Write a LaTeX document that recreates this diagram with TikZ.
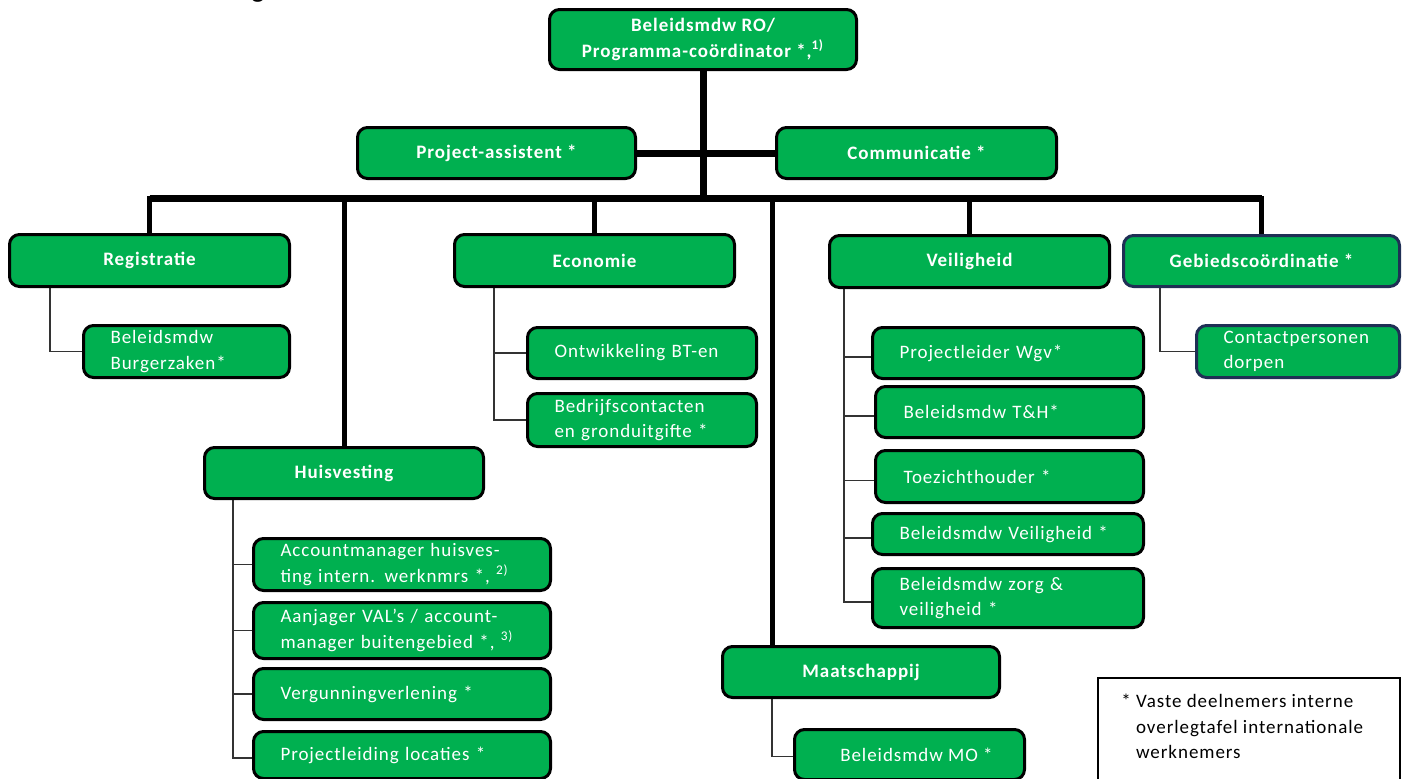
\documentclass[tikz,border=0pt]{standalone}
\usepackage{fontspec}
\setmainfont{Carlito}[LetterSpace=5]
\usetikzlibrary{backgrounds}
\definecolor{boxgreen}{HTML}{00B050}
\definecolor{navyedge}{HTML}{1F2F55}
\definecolor{thinline}{HTML}{333333}
\newcommand\boxfont{\fontsize{9.5}{12.75}\selectfont}
\begin{document}
\begin{tikzpicture}[x=0.5pt,y=-0.5pt,
  box/.style={draw=black, line width=1.5pt, fill=boxgreen, rounded corners=5pt,
    text=white, inner sep=0pt, anchor=north west, font=\boxfont},
  head/.style={box, font=\bfseries\boxfont, align=center},
  sub/.style={box, align=left, inner xsep=13.5pt},
  thickconn/.style={line width=3.5pt, draw=black},
  dropconn/.style={line width=2.5pt, draw=black, line cap=rect},
  thinconn/.style={line width=0.75pt, draw=thinline}]
\useasboundingbox (0,0) rectangle (1402,778);
\node[anchor=base, inner sep=0pt, font=\fontsize{14}{14}\selectfont] (titlefrag) at (258,-3) {g};
% top level
\node[head, minimum width=153.5pt, minimum height=30pt] (top) at (548,8) {Beleidsmdw RO/\\Programma-coördinator *,\textsuperscript{1)}};
\node[head, minimum width=139pt, minimum height=25.5pt] (proj) at (356,126) {Project-assistent *};
\node[head, minimum width=140pt, minimum height=25.5pt] (comm) at (775,126) {Communicatie *};
% Registratie
\node[head, minimum width=140pt, minimum height=26pt] (reg) at (8,233) {Registratie};
\node[sub, text width=76pt, minimum height=26pt] (burg) at (82,324) {Beleidsmdw\\Burgerzaken*};
% Economie
\node[head, minimum width=140pt, minimum height=26pt] (econ) at (453,233) {Economie};
\node[sub, text width=87.5pt, minimum height=25.5pt] (ontw) at (526,326) {Ontwikkeling BT-en};
\node[sub, text width=87.5pt, minimum height=26.5pt] (bedr) at (526,392) {Bedrijfscontacten\\en gronduitgifte *};
% Veiligheid
\node[head, minimum width=140pt, minimum height=26pt] (veil) at (828,234) {Veiligheid};
\node[sub, text width=108.5pt, minimum height=25.5pt] (wgv) at (871,326) {Projectleider Wgv*};
\node[sub, inner xsep=14pt, text width=106pt, minimum height=25.5pt] (th) at (874,385) {Beleidsmdw T\&H*};
\node[sub, inner xsep=14pt, text width=106pt, minimum height=26pt] (toez) at (874,449) {Toezichthouder *};
\node[sub, text width=108.5pt, minimum height=20.5pt] (bveil) at (871,512) {Beleidsmdw Veiligheid *};
\node[sub, text width=108.5pt, minimum height=29.5pt] (zorg) at (871,567) {Beleidsmdw zorg \&\\veiligheid *};
% Gebiedscoordinatie
\node[head, draw=navyedge, minimum width=138pt, minimum height=25.5pt] (gebied) at (1122,234) {Gebiedscoördinatie *};
\node[sub, draw=navyedge, text width=74.5pt, minimum height=26pt] (contact) at (1195,324) {Contactpersonen\\dorpen};
% Huisvesting
\node[head, minimum width=139.5pt, minimum height=25.5pt] (huis) at (203,446) {Huisvesting};
\node[sub, text width=121.5pt, minimum height=26pt] (acc) at (252,537) {Accountmanager huisves-\\ting intern. werknmrs *, \textsuperscript{2)}};
\node[sub, text width=121.5pt, minimum height=28pt] (aanj) at (252,601) {Aanjager VAL’s / account-\\manager buitengebied *, \textsuperscript{3)}};
\node[sub, text width=121.5pt, minimum height=25.5pt] (verg) at (252,667) {Vergunningverlening *};
\node[sub, text width=121.5pt, minimum height=23.5pt] (projl) at (252,730) {Projectleiding locaties *};
% Maatschappij
\node[head, minimum width=138.5pt, minimum height=25.5pt] (maat) at (721,645) {Maatschappij};
\node[box, align=center, minimum width=115pt, minimum height=25pt] (mo) at (793,728) {\hspace*{7pt}Beleidsmdw MO *};
% legend
\node[draw=black, line width=1pt, anchor=north west, minimum width=151pt, minimum height=60pt, inner sep=0pt] (legend) at (1097,677) {};
\node[anchor=north west, align=left, inner sep=0pt, font=\boxfont] (legendtext) at (1121,694) {* Vaste deelnemers interne\\\phantom{* }overlegtafel internationale\\\phantom{* }werknemers};
% connectors
\coordinate (barY) at (0,198);
\coordinate (maatIn) at ([xshift=25.5pt]maat.north west);
\begin{pgfonlayer}{background}
\draw[thickconn] (top.south) -- (top.south |- barY);
\draw[thickconn] (proj.east) -- (comm.west);
\draw[thickconn] (reg.north |- barY) -- (gebied.north |- barY);
\draw[dropconn] (reg.north |- barY) -- (reg.north);
\draw[dropconn] (huis.north |- barY) -- (huis.north);
\draw[dropconn] (econ.north |- barY) -- (econ.north);
\draw[dropconn] (maatIn |- barY) -- (maatIn);
\draw[dropconn] (veil.north |- barY) -- (veil.north);
\draw[dropconn] (gebied.north |- barY) -- (gebied.north);
\draw[thinconn] ([xshift=21pt]reg.south west) |- (burg.west);
\draw[thinconn] ([xshift=20.5pt]econ.south west) |- (ontw.west);
\draw[thinconn] ([xshift=20.5pt]econ.south west) |- (bedr.west);
\draw[thinconn] ([xshift=8pt]veil.south west) |- ([yshift=-2pt]wgv.west);
\draw[thinconn] ([xshift=8pt]veil.south west) |- ([yshift=-2pt]th.west);
\draw[thinconn] ([xshift=8pt]veil.south west) |- ([yshift=-2pt]toez.west);
\draw[thinconn] ([xshift=8pt]veil.south west) |- ([yshift=-2pt]bveil.west);
\draw[thinconn] ([xshift=8pt]veil.south west) |- ([yshift=-2pt]zorg.west);
\draw[thinconn] ([xshift=19pt]gebied.south west) |- (contact.west);
\draw[thinconn] ([xshift=15pt]huis.south west) |- (acc.west);
\draw[thinconn] ([xshift=15pt]huis.south west) |- (aanj.west);
\draw[thinconn] ([xshift=15pt]huis.south west) |- (verg.west);
\draw[thinconn] ([xshift=15pt]huis.south west) |- ([yshift=-1.5pt]projl.west);
\draw[thinconn] ([xshift=25.5pt]maat.south west) |- ([yshift=-1pt]mo.west);
\end{pgfonlayer}
\end{tikzpicture}
\end{document}
